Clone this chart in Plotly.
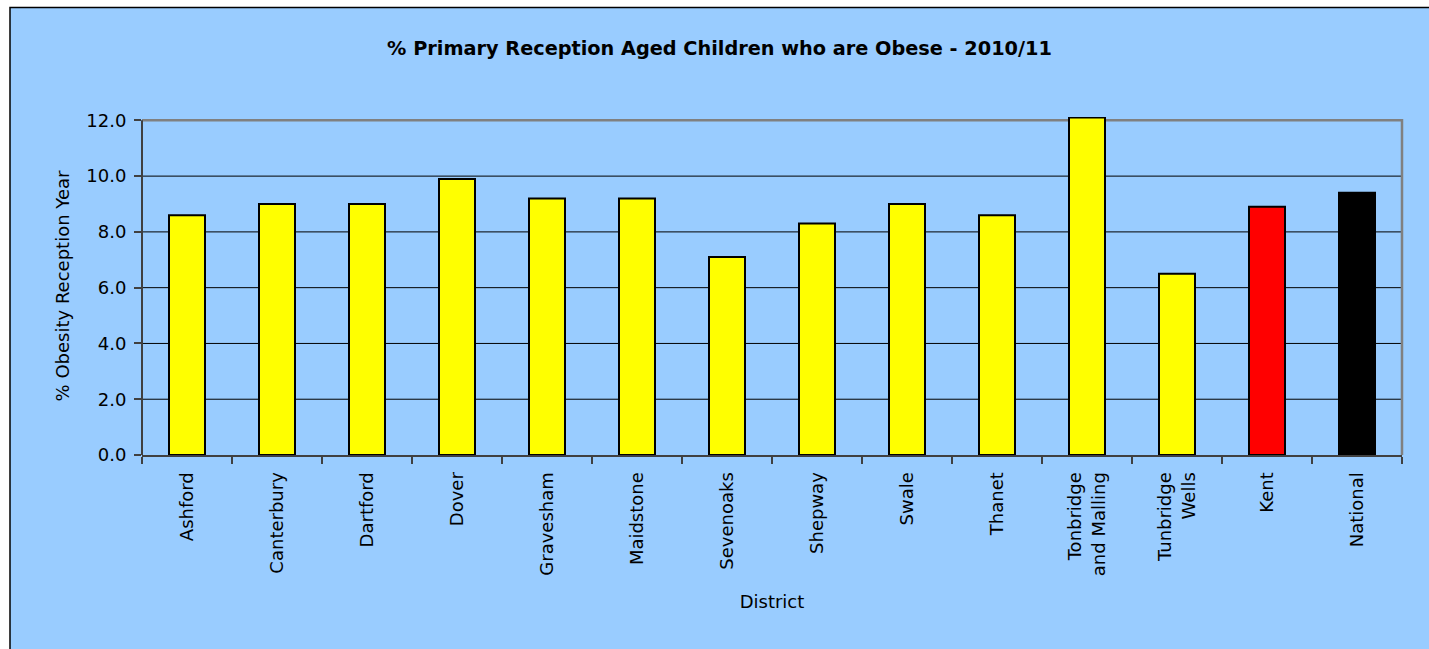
import plotly.graph_objects as go

districts = ["Ashford", "Canterbury", "Dartford", "Dover", "Gravesham", "Maidstone",
             "Sevenoaks", "Shepway", "Swale", "Thanet", "Tonbridge<br>and Malling",
             "Tunbridge<br>Wells", "Kent", "National"]
obesity = [8.6, 9.0, 9.0, 9.9, 9.2, 9.2, 7.1, 8.3, 9.0, 8.6, 12.1, 6.5, 8.9, 9.4]
bar_colors = ["#FFFF00"] * 12 + ["#FF0000", "#000000"]
y_ticks = [0, 2, 4, 6, 8, 10, 12]
grid_vals = [2, 4, 6, 8, 10]

W, H = 1429, 649
Y_TOP = 12.0
Y_MAX = 12.12
L, R, B = 142, 1402, 455
T = B - (B - 120) * Y_MAX / Y_TOP  # plot area top so that 12.0 sits at pixel 120

FONT = "DejaVu Sans"
BG = "#99CCFF"

fig = go.Figure(go.Bar(
    x=districts, y=obesity,
    marker=dict(color=bar_colors, line=dict(color="#000000", width=2)),
    width=0.4, hoverinfo="x+y",
))

def px_x(p):
    return (p - L) / (R - L)

def px_y(p):
    return (B - p) / (B - T)

shapes = [
    dict(type="rect", xref="paper", yref="paper", layer="below",
         x0=px_x(10), x1=px_x(W + 20), y0=px_y(H + 20), y1=px_y(7),
         fillcolor=BG, line=dict(color="#000000", width=1.5)),
]
for g in grid_vals:
    shapes.append(dict(type="line", xref="paper", yref="y", layer="below",
                       x0=0, x1=1, y0=g, y1=g, line=dict(color="#000000", width=1)))
shapes += [
    dict(type="path", xref="paper", yref="y", layer="below",
         path=f"M 0 {Y_TOP} L 1 {Y_TOP} L 1 0", line=dict(color="#808080", width=2.5)),
    dict(type="line", xref="paper", yref="y", layer="below",
         x0=0, x1=0, y0=0, y1=Y_TOP, line=dict(color="#404040", width=2)),
]

fig.update_layout(
    width=W, height=H,
    margin=dict(l=L, r=W - R, t=T, b=H - B, pad=0),
    paper_bgcolor="white",
    plot_bgcolor=BG,
    showlegend=False,
    font=dict(family=FONT, size=18, color="#000000"),
    title=dict(text="<b>% Primary Reception Aged Children who are Obese - 2010/11</b>",
               font=dict(family=FONT, size=19.3, color="#000000"),
               xref="container", yref="container", x=719.5 / W, y=1 - 48 / H,
               xanchor="center", yanchor="middle"),
    shapes=shapes,
)

fig.update_xaxes(
    type="category",
    tickangle=-90,
    ticks="outside", tickson="boundaries", ticklen=7, tickcolor="#404040", tickwidth=1.5,
    showline=True, linecolor="#404040", linewidth=2,
    showgrid=False,
    ticklabelstandoff=8,
    tickfont=dict(family=FONT, size=18),
    title=dict(text="District", font=dict(family=FONT, size=18), standoff=20),
)
fig.update_yaxes(
    range=[0, Y_MAX], tickvals=y_ticks, tickformat=".1f",
    ticks="outside", ticklen=7, tickcolor="#404040", tickwidth=1.5,
    showline=False,
    showgrid=False,
    zeroline=False,
    ticklabelstandoff=4,
    tickfont=dict(family=FONT, size=18),
    title=dict(text="% Obesity Reception Year", font=dict(family=FONT, size=18), standoff=12),
)

fig.write_html("out.html", config={"displayModeBar": False},
               post_script="document.body.style.margin='0';")
